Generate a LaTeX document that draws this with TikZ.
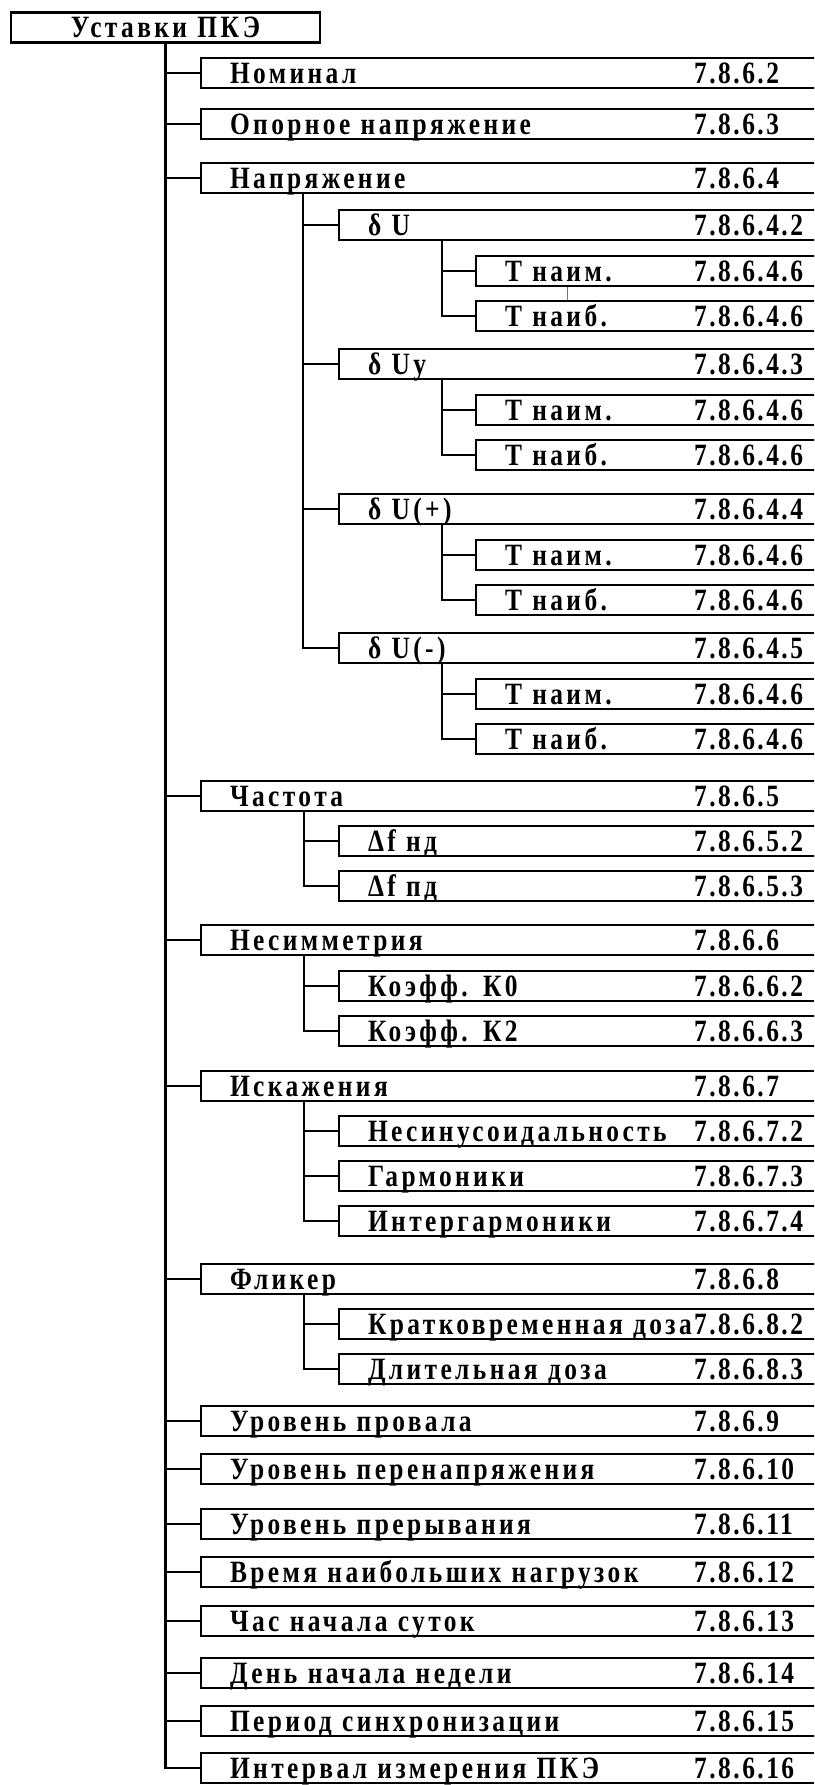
\documentclass[tikz,border=0pt]{standalone}
\usepackage{fontspec}
\setmainfont{Liberation Serif}

\begin{document}
\begin{tikzpicture}[x=1pt, y=-1pt,
  box/.style={draw, line width=2.1pt, anchor=west, inner ysep=0pt, inner xsep=29pt,
    minimum height=30pt, text height=20pt, text depth=0pt, align=left,
    font=\bfseries\fontsize{31}{30}\selectfont\addfontfeatures{FakeStretch=0.82, LetterSpace=11}},
  rootbox/.style={box, anchor=center, text width=251pt, align=center},
  boxA/.style={box, text width=572pt},
  boxB/.style={box, text width=434pt},
  boxC/.style={box, text width=297pt},
  num/.style={anchor=west, inner sep=0pt, text height=20pt, text depth=0pt,
    font=\bfseries\fontsize{31}{30}\selectfont\addfontfeatures{FakeStretch=0.82, LetterSpace=8}},
  link/.style={line width=2.1pt}]
  \useasboundingbox (0,0) rectangle (814,1785);
  \clip (0,0) rectangle (814,1785);

  \node[rootbox] (root) at (165.5,27.5) {Уставки ПКЭ};

  % first level
  \node[boxA] (nom)     at (200,73)   {Номинал};
  \node[boxA] (opn)     at (200,124)  {Опорное напряжение};
  \node[boxA] (napr)    at (200,178)  {Напряжение};
  \node[boxA] (chast)   at (200,796)  {Частота};
  \node[boxA] (nesim)   at (200,940)  {Несимметрия};
  \node[boxA] (iskaz)   at (200,1086) {Искажения};
  \node[boxA] (flick)   at (200,1279) {Фликер};
  \node[boxA] (proval)  at (200,1421) {Уровень провала};
  \node[boxA] (perenap) at (200,1469) {Уровень перенапряжения};
  \node[boxA] (prer)    at (200,1524) {Уровень прерывания};
  \node[boxA] (vremya)  at (200,1572) {Время наибольших нагрузок};
  \node[boxA] (chas)    at (200,1621) {Час начала суток};
  \node[boxA] (den)     at (200,1673) {День начала недели};
  \node[boxA] (period)  at (200,1721) {Период синхронизации};
  \node[boxA] (interv)  at (200,1768) {Интервал измерения ПКЭ};

  % second level
  \node[boxB] (dU)   at (338,225) {δ U};
  \node[boxB] (dUy)  at (338,364) {δ Uу};
  \node[boxB] (dUp)  at (338,509)   {δ U(+)};
  \node[boxB] (dUm)  at (338,648)   {δ U(-)};
  \node[boxB] (dfnd) at (338,841)   {Δf нд};
  \node[boxB] (dfpd) at (338,886)   {Δf пд};
  \node[boxB] (k0)   at (338,986)   {Коэфф. К0};
  \node[boxB] (k2)   at (338,1031)  {Коэфф. К2};
  \node[boxB] (nesin) at (338,1131) {Несинусоидальность};
  \node[boxB] (garm)  at (338,1176) {Гармоники};
  \node[boxB] (intg)  at (338,1221) {Интергармоники};
  \node[boxB] (krat)  at (338,1324) {Кратковременная доза};
  \node[boxB] (dlit)  at (338,1369) {Длительная доза};

  % third level
  \node[boxC] (tn1) at (475,271) {Т наим.};
  \node[boxC] (tb1) at (475,316) {Т наиб.};
  \node[boxC] (tn2) at (475,410) {Т наим.};
  \node[boxC] (tb2) at (475,455) {Т наиб.};
  \node[boxC] (tn3) at (475,555) {Т наим.};
  \node[boxC] (tb3) at (475,600) {Т наиб.};
  \node[boxC] (tn4) at (475,694) {Т наим.};
  \node[boxC] (tb4) at (475,739) {Т наиб.};

  % section numbers
  \node[num] (nom-n)     at (694,73)   {7.8.6.2};
  \node[num] (opn-n)     at (694,124)  {7.8.6.3};
  \node[num] (napr-n)    at (694,178)  {7.8.6.4};
  \node[num] (dU-n)      at (694,225)  {7.8.6.4.2};
  \node[num] (tn1-n)     at (694,271)  {7.8.6.4.6};
  \node[num] (tb1-n)     at (694,316)  {7.8.6.4.6};
  \node[num] (dUy-n)     at (694,364)  {7.8.6.4.3};
  \node[num] (tn2-n)     at (694,410)  {7.8.6.4.6};
  \node[num] (tb2-n)     at (694,455)  {7.8.6.4.6};
  \node[num] (dUp-n)     at (694,509)  {7.8.6.4.4};
  \node[num] (tn3-n)     at (694,555)  {7.8.6.4.6};
  \node[num] (tb3-n)     at (694,600)  {7.8.6.4.6};
  \node[num] (dUm-n)     at (694,648)  {7.8.6.4.5};
  \node[num] (tn4-n)     at (694,694)  {7.8.6.4.6};
  \node[num] (tb4-n)     at (694,739)  {7.8.6.4.6};
  \node[num] (chast-n)   at (694,796)  {7.8.6.5};
  \node[num] (dfnd-n)    at (694,841)  {7.8.6.5.2};
  \node[num] (dfpd-n)    at (694,886)  {7.8.6.5.3};
  \node[num] (nesim-n)   at (694,940)  {7.8.6.6};
  \node[num] (k0-n)      at (694,986)  {7.8.6.6.2};
  \node[num] (k2-n)      at (694,1031) {7.8.6.6.3};
  \node[num] (iskaz-n)   at (694,1086) {7.8.6.7};
  \node[num] (nesin-n)   at (694,1131) {7.8.6.7.2};
  \node[num] (garm-n)    at (694,1176) {7.8.6.7.3};
  \node[num] (intg-n)    at (694,1221) {7.8.6.7.4};
  \node[num] (flick-n)   at (694,1279) {7.8.6.8};
  \node[num] (krat-n)    at (694,1324) {7.8.6.8.2};
  \node[num] (dlit-n)    at (694,1369) {7.8.6.8.3};
  \node[num] (proval-n)  at (694,1421) {7.8.6.9};
  \node[num] (perenap-n) at (694,1469) {7.8.6.10};
  \node[num] (prer-n)    at (694,1524) {7.8.6.11};
  \node[num] (vremya-n)  at (694,1572) {7.8.6.12};
  \node[num] (chas-n)    at (694,1621) {7.8.6.13};
  \node[num] (den-n)     at (694,1673) {7.8.6.14};
  \node[num] (period-n)  at (694,1721) {7.8.6.15};
  \node[num] (interv-n)  at (694,1768) {7.8.6.16};

  % tree lines
  \draw[link] (root.south) |- (nom.west)  (root.south) |- (opn.west)
    (root.south) |- (napr.west)  (root.south) |- (chast.west)
    (root.south) |- (nesim.west)  (root.south) |- (iskaz.west)
    (root.south) |- (flick.west)  (root.south) |- (proval.west)
    (root.south) |- (perenap.west)  (root.south) |- (prer.west)
    (root.south) |- (vremya.west)  (root.south) |- (chas.west)
    (root.south) |- (den.west)  (root.south) |- (period.west)
    (root.south) |- (interv.west);
  \draw[link] ([xshift=103pt]napr.south west) |- (dU.west)
    ([xshift=103pt]napr.south west) |- (dUy.west)
    ([xshift=103pt]napr.south west) |- (dUp.west)
    ([xshift=103pt]napr.south west) |- (dUm.west);
  \draw[link] ([xshift=104pt]dU.south west) |- (tn1.west)
    ([xshift=104pt]dU.south west) |- (tb1.west);
  \draw[link] ([xshift=104pt]dUy.south west) |- (tn2.west)
    ([xshift=104pt]dUy.south west) |- (tb2.west);
  \draw[link] ([xshift=104pt]dUp.south west) |- (tn3.west)
    ([xshift=104pt]dUp.south west) |- (tb3.west);
  \draw[link] ([xshift=104pt]dUm.south west) |- (tn4.west)
    ([xshift=104pt]dUm.south west) |- (tb4.west);
  \draw[link] ([xshift=104pt]chast.south west) |- (dfnd.west)
    ([xshift=104pt]chast.south west) |- (dfpd.west);
  \draw[link] ([xshift=104pt]nesim.south west) |- (k0.west)
    ([xshift=104pt]nesim.south west) |- (k2.west);
  \draw[link] ([xshift=104pt]iskaz.south west) |- (nesin.west)
    ([xshift=104pt]iskaz.south west) |- (garm.west)
    ([xshift=104pt]iskaz.south west) |- (intg.west);
  \draw[link] ([xshift=104pt]flick.south west) |- (krat.west)
    ([xshift=104pt]flick.south west) |- (dlit.west);
  \draw[line width=0.8pt, black!55] ([xshift=92pt]tn1.south west) -- ([xshift=92pt]tb1.north west);
\end{tikzpicture}
\end{document}
